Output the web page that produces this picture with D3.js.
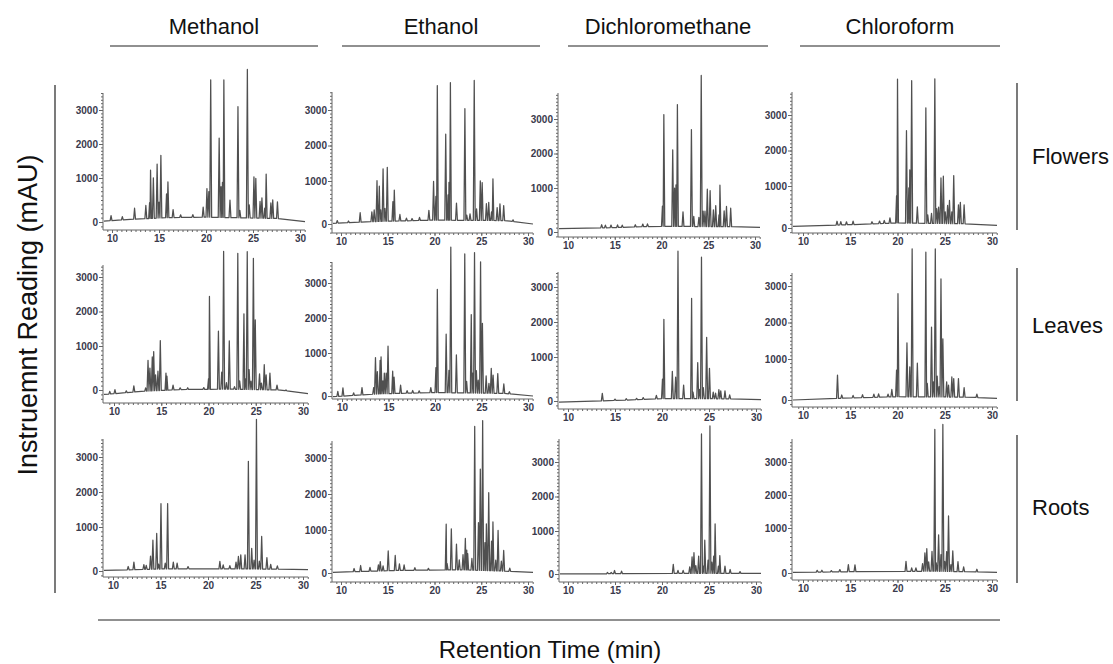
<!DOCTYPE html>
<meta charset="utf-8">
<style>
  body { margin: 0; background: #fff; }
  text { font-family: Arial, "Liberation Sans", sans-serif; }
  .tick text { font-size: 10px; font-weight: bold; fill: #3a3a4c; }
  .tick line { stroke: #666; }
  .trace { fill: none; stroke: #505050; stroke-width: 1.25; stroke-linejoin: round; }
</style>
<body>
<script src="https://cdn.jsdelivr.net/npm/d3@7"></script>
<script>

var solvents = ["Methanol", "Ethanol", "Dichloromethane", "Chloroform"];
var tissues = ["Flowers", "Leaves", "Roots"];
var xTicks = [10, 15, 20, 25, 30];
var yTicks = [0, 1000, 2000, 3000];

// peaks: [retention time (min), height (mAU)]
var methanolFlowers = [[9.9,115],[11.1,75],[12.4,250],[13.6,300],[14.0,360],[14.1,1150],[14.4,920],[14.8,1320],[15.0,360],[15.2,1575],
  [15.8,540],[15.95,810],[16.5,180],[17.3,60],[18.6,60],[19.7,230],[20.1,650],[20.3,580],[20.5,3780],[21.4,2070],[21.6,700],[21.75,800],
  [21.9,3780],[22.55,400],[23.4,3000],[23.6,170],[24.4,4100],[24.6,300],[25.1,945],[25.3,900],[25.75,380],[25.95,460],[26.25,230],
  [26.4,1030],[26.9,350],[27.1,420],[27.6,380]];
var ethanolFlowers = [[9.6,60],[10.8,40],[12.05,220],[13.3,230],[13.55,270],[13.85,950],[14.1,820],[14.25,270],[14.5,1280],[14.7,300],
  [14.95,1320],[15.55,450],[15.7,720],[16.3,150],[17.0,60],[17.6,50],[18.4,70],[19.4,230],[19.9,900],[20.15,550],[20.3,3600],
  [21.2,2230],[21.45,590],[21.55,880],[21.7,3680],[22.35,400],[23.25,2950],[23.45,120],[23.8,150],[24.25,3750],[24.5,270],[24.9,920],
  [25.1,880],[25.55,390],[25.8,420],[26.1,200],[26.25,980],[26.7,300],[27.0,390],[27.4,350],[28.4,40]];
var dcmFlowers = [[13.6,70],[14.0,60],[14.6,60],[15.3,60],[15.8,50],[17.2,50],[18.0,60],[18.5,60],[20.1,460],[20.25,3000],[21.2,1980],
  [21.4,870],[21.55,960],[21.7,3290],[22.3,330],[23.2,2570],[23.45,230],[24.0,210],[24.25,4140],[24.45,350],[24.65,350],[24.9,850],
  [25.2,820],[25.55,380],[25.8,480],[26.15,270],[26.25,960],[26.7,360],[26.95,460],[27.4,420]];
var chloroformFlowers = [[13.6,90],[14.0,80],[14.6,70],[15.3,80],[17.3,50],[18.1,60],[18.6,70],[19.2,130],[19.9,650],[20.0,3890],
  [20.95,2440],[21.2,840],[21.3,1340],[21.5,3850],[22.1,390],[23.0,3090],[23.2,200],[23.6,240],[23.95,3910],[24.15,350],[24.35,390],
  [24.6,1120],[24.85,1170],[25.05,280],[25.3,430],[25.5,550],[25.75,280],[25.95,1190],[26.45,450],[26.65,510],[27.05,450]];

var methanolLeaves = [[9.55,60],[10.1,90],[11.3,40],[12.1,140],[13.35,75],[13.6,700],[13.8,520],[14.05,770],[14.2,890],[14.4,360],
  [14.65,440],[14.9,1170],[15.5,390],[15.6,320],[16.25,110],[17.0,40],[17.8,40],[19.5,40],[20.0,240],[20.1,2420],[21.05,1410],
  [21.4,390],[21.6,3720],[21.9,150],[22.2,1130],[22.75,60],[23.1,3670],[23.3,190],[23.75,1920],[23.9,240],[24.1,3720],[24.3,450],
  [24.5,190],[24.75,3530],[24.95,1750],[25.4,360],[25.6,150],[25.9,570],[26.1,340],[26.5,380],[27.25,110],[28.2,20]];
var ethanolLeaves = [[9.55,115],[10.1,190],[11.25,60],[12.15,170],[13.4,150],[13.6,850],[13.8,520],[14.1,780],[14.2,860],[14.4,300],
  [14.55,480],[14.75,480],[14.95,1140],[15.45,520],[15.6,380],[16.3,190],[17.0,60],[17.6,60],[18.3,50],[19.55,115],[20.1,580],
  [20.25,2740],[21.2,1460],[21.5,520],[21.7,3950],[22.3,880],[23.2,3760],[23.4,270],[23.9,2030],[24.05,460],[24.25,3800],[24.45,520],
  [24.65,300],[24.9,3540],[25.1,1780],[25.5,400],[25.8,230],[26.05,580],[26.25,420],[26.75,460],[27.4,220],[28.0,50]];
var dcmLeaves = [[13.65,170],[15.0,30],[16.2,30],[17.3,30],[18.0,40],[19.4,80],[20.05,440],[20.2,2020],[21.1,620],[21.45,490],
  [21.7,3970],[22.3,310],[23.15,2620],[23.3,150],[23.8,820],[24.0,210],[24.2,3800],[24.4,250],[24.75,1510],[25.05,690],[25.45,150],
  [25.7,130],[26.05,210],[26.25,180],[26.7,180],[27.2,90]];
var chloroformLeaves = [[13.65,570],[14.1,80],[15.3,60],[16.3,70],[17.5,80],[18.0,80],[19.0,70],[19.4,180],[19.9,650],[20.05,2710],
  [21.0,1360],[21.3,730],[21.55,3940],[22.1,820],[23.0,3850],[23.15,330],[23.6,1800],[23.8,370],[24.0,3940],[24.2,510],[24.4,250],
  [24.6,3120],[24.8,1480],[25.2,370],[25.4,290],[25.75,490],[25.95,450],[26.45,450],[27.05,230],[28.4,80]];

var methanolRoots = [[11.6,75],[12.2,170],[13.25,110],[13.5,90],[13.95,300],[14.2,660],[14.6,810],[14.8,110],[15.05,1620],[15.5,130],
  [15.75,1620],[16.35,150],[16.75,130],[17.9,50],[21.25,170],[21.6,90],[22.3,70],[22.95,150],[23.2,280],[23.45,320],[23.9,320],
  [24.25,2830],[24.6,470],[24.85,200],[25.1,4030],[25.4,180],[25.65,740],[26.2,260],[26.6,110],[27.3,75]];
var ethanolRoots = [[11.4,75],[12.1,140],[13.1,90],[14.0,140],[14.2,215],[14.5,115],[15.05,460],[15.8,350],[16.25,150],[16.75,130],
  [17.9,60],[19.35,40],[21.25,1090],[21.35,150],[21.8,960],[22.35,600],[22.65,230],[23.05,350],[23.3,730],[23.45,460],[23.55,380],
  [24.0,270],[24.3,3810],[24.7,1140],[24.9,2630],[25.15,3980],[25.4,650],[25.55,1110],[25.8,1980],[26.1,690],[26.25,1170],
  [26.55,250],[26.8,940],[27.15,230],[27.4,480],[28.05,75]];
var dcmRoots = [[14.2,30],[14.6,30],[14.95,75],[15.7,60],[21.2,210],[21.7,70],[22.25,70],[22.95,150],[23.2,385],[23.4,480],[23.6,180],
  [23.9,400],[24.2,3800],[24.4,170],[24.55,770],[24.9,310],[25.1,4030],[25.3,260],[25.5,400],[25.65,1190],[26.0,170],[26.15,415],
  [26.7,170],[27.25,90],[28.3,40]];
var chloroformRoots = [[11.5,40],[12.0,40],[13.0,30],[13.9,50],[14.8,160],[15.5,150],[20.9,220],[21.5,75],[21.95,75],[22.65,170],
  [22.9,410],[23.1,500],[23.3,210],[23.65,440],[23.95,3950],[24.1,185],[24.35,810],[24.6,370],[24.8,4100],[25.0,220],[25.2,440],
  [25.4,1330],[25.65,150],[25.85,460],[26.4,220],[27.0,110],[28.4,60]];

// baseline drift: [time, level]
var baseFlowers = [[[9.1,20],[12,60],[16,100],[20,110],[27.5,80],[30.5,10]],
                   [[9.1,15],[14,60],[20,90],[27.5,80],[30.5,0]],
                   [[9.1,77],[15,100],[19.5,130],[27.5,120],[30.5,105]],
                   [[9.1,40],[15,80],[20,120],[27.5,100],[30.5,60]]];
var baseLeaves = [[[9.1,-100],[13,-30],[17,10],[22,20],[27.5,0],[30.5,-80]],
                  [[9.1,-15],[14,50],[20,80],[27.5,60],[30.5,0]],
                  [[9.1,-25],[16,20],[20,55],[27.5,50],[30.5,30]],
                  [[9.1,0],[15,50],[20,80],[27.5,70],[30.5,40]]];
var baseRoots = [[[9.1,15],[16,50],[23,50],[28,40],[30.5,30]],
                 [[9.1,15],[16,60],[23,75],[28,40],[30.5,15]],
                 [[9.1,0],[18,10],[24,15],[30.5,15]],
                 [[9.1,15],[18,35],[24,40],[30.5,15]]];

var peakRows = [[methanolFlowers, ethanolFlowers, dcmFlowers, chloroformFlowers],
                [methanolLeaves, ethanolLeaves, dcmLeaves, chloroformLeaves],
                [methanolRoots, ethanolRoots, dcmRoots, chloroformRoots]];
var baseRows = [baseFlowers, baseLeaves, baseRoots];

// panel geometry (pixels): y-axis x, axis top, axis bottom, x of 10 and 30 min, y of 0 / 1000 / 3000 mAU
var layout = [
  [[103,93,230,112,300,222,178,110],[332,92,233,341,528,224,181,110],[558,93,237,568,755,232,188,119],[792,92,233,803,992,228,186,115]],
  [[103,265,403,114,303,390,346,277],[332,262,399,342,528,396,353,283],[558,272,409,568,756,401,357,287],[792,273,407,803,992,400,359,286]],
  [[103,439,577,113,303,571,527,457],[332,441,582,341,528,573,530,458],[559,439,582,568,756,574,531,462],[792,439,580,803,992,573,528,462]]
];

var W = 0.1; // half width of a peak, minutes

var svg = d3.select("body").append("svg")
    .attr("width", 1113)
    .attr("height", 664);

peakRows.forEach(function(row, r) {
  row.forEach(function(peaks, c) {
    var L = layout[r][c];
    var left = L[0], top = L[1], bottom = L[2];
    var x = d3.scaleLinear().domain([10, 30]).range([L[3], L[4]]);
    var y = d3.scaleLinear().domain([0, 1000, 3000]).range([L[5], L[6], L[7]]);
    var right = L[4] + 5;
    var bl = baseRows[r][c];
    var base = d3.scaleLinear().domain(bl.map(function(d) { return d[0]; }))
        .range(bl.map(function(d) { return d[1]; })).clamp(true);

    var g = svg.append("g");

    // y axis
    g.append("line").attr("x1", left).attr("x2", left).attr("y1", top).attr("y2", bottom)
        .attr("stroke", "#666");
    var minorY = d3.range(-400, 4200, 100).filter(function(v) { var p = y(v); return p >= top && p <= bottom; });
    g.append("g").attr("transform", "translate(" + left + ",0)")
        .call(d3.axisLeft(y).tickValues(minorY).tickSize(2).tickFormat(""))
        .call(function(a) { a.select(".domain").remove(); });
    g.append("g").attr("transform", "translate(" + left + ",0)")
        .call(d3.axisLeft(y).tickValues(yTicks).tickSize(4).tickPadding(1).tickFormat(d3.format("d")))
        .call(function(a) { a.select(".domain").remove(); });

    // x axis
    g.append("line").attr("x1", left).attr("x2", right).attr("y1", bottom).attr("y2", bottom)
        .attr("stroke", "#666");
    var minorX = d3.range(9.5, 30.6, 0.5).filter(function(v) { return x(v) > left && x(v) <= right; });
    g.append("g").attr("transform", "translate(0," + bottom + ")")
        .call(d3.axisBottom(x).tickValues(minorX).tickSize(2).tickFormat(""))
        .call(function(a) { a.select(".domain").remove(); });
    g.append("g").attr("transform", "translate(0," + bottom + ")")
        .call(d3.axisBottom(x).tickValues(xTicks).tickSize(3).tickPadding(2))
        .call(function(a) { a.select(".domain").remove(); });

    // trace
    var tStart = x.invert(left + 1), tEnd = x.invert(right);
    var pk = peaks.slice().sort(function(a, b) { return a[0] - b[0]; });
    var pts = [[tStart, base(tStart)]];
    pk.forEach(function(d, i) {
      var prev = i > 0 ? pk[i - 1][0] : -Infinity;
      var next = i < pk.length - 1 ? pk[i + 1][0] : Infinity;
      var wl = Math.min(W, (d[0] - prev) / 2), wr = Math.min(W, (next - d[0]) / 2);
      pts.push([d[0] - wl, base(d[0] - wl)], [d[0], base(d[0]) + d[1]], [d[0] + wr, base(d[0] + wr)]);
    });
    pts.push([tEnd, base(tEnd)]);

    g.append("path").attr("class", "trace")
        .attr("d", d3.line().x(function(d) { return x(d[0]); }).y(function(d) { return y(d[1]); })(pts));
  });
});

// column headers
var headX = [[110, 318], [342, 540], [568, 768], [800, 1000]];
solvents.forEach(function(s, i) {
  var h = headX[i];
  svg.append("text").attr("x", (h[0] + h[1]) / 2).attr("y", 34).attr("text-anchor", "middle")
      .attr("font-size", 22).attr("fill", "#111").text(s);
  svg.append("line").attr("x1", h[0]).attr("x2", h[1]).attr("y1", 46).attr("y2", 46)
      .attr("stroke", "#222").attr("stroke-width", 1.2);
});

// row labels
var rowY = [[83, 230], [268, 401], [435, 583]];
var rowLabelY = [164, 333, 515];
tissues.forEach(function(t, i) {
  var v = rowY[i];
  svg.append("line").attr("x1", 1017).attr("x2", 1017).attr("y1", v[0]).attr("y2", v[1])
      .attr("stroke", "#222").attr("stroke-width", 1.2);
  svg.append("text").attr("x", 1032).attr("y", rowLabelY[i])
      .attr("font-size", 22).attr("fill", "#111").text(t);
});

// overall axis titles
svg.append("line").attr("x1", 55).attr("x2", 55).attr("y1", 85).attr("y2", 593)
    .attr("stroke", "#222").attr("stroke-width", 1.2);
svg.append("text").attr("transform", "translate(37,315) rotate(-90)").attr("text-anchor", "middle")
    .attr("font-size", 27).attr("fill", "#111").text("Instruemnt Reading (mAU)");

svg.append("line").attr("x1", 98).attr("x2", 1000).attr("y1", 620).attr("y2", 620)
    .attr("stroke", "#222").attr("stroke-width", 1.2);
svg.append("text").attr("x", 550).attr("y", 658).attr("text-anchor", "middle")
    .attr("font-size", 24).attr("fill", "#111").text("Retention Time (min)");

</script>
</body>
